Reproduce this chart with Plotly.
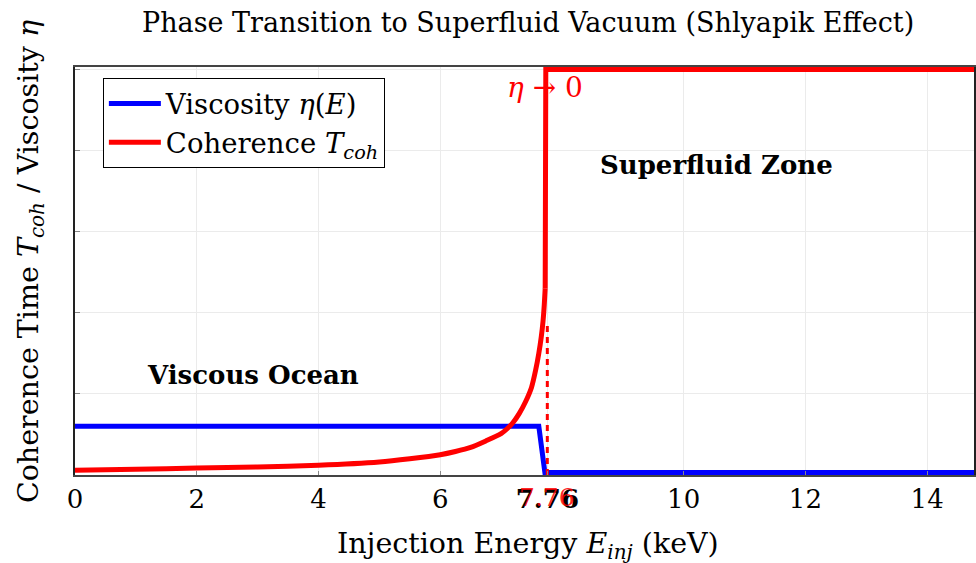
import plotly.graph_objects as go

# Data
E_eta = [0, 7.62, 7.72, 14.8]
eta = [0.6, 0.6, 0.03, 0.03]

E_coh = [0, 1, 2, 3, 4, 5, 5.5, 6, 6.25, 6.5, 6.75, 7.0, 7.1, 7.2, 7.3, 7.4,
         7.5, 7.57, 7.62, 7.66, 7.69, 7.71, 7.725]
T_coh = [0.06, 0.07, 0.085, 0.10, 0.12, 0.16, 0.2, 0.25, 0.29, 0.34, 0.42, 0.51,
         0.57, 0.65, 0.76, 0.9, 1.08, 1.3, 1.5, 1.7, 1.9, 2.1, 2.3]
E_jump = [7.725, 7.735, 14.8]
T_jump = [2.3, 5.0, 5.0]

E_crit = 7.76
crit_line_y = [0, 1.9]

x_ticks = [0, 2, 4, 6, 7.76, 10, 12, 14]
x_ticktext = ["0", "2", "4", "6", "<b>7.76</b>", "10", "12", "14"]
y_ticks = [0, 1, 2, 3, 4, 5]

FONT = "DejaVu Serif"

fig = go.Figure()
fig.add_trace(go.Scatter(x=E_eta, y=eta, mode="lines",
                         line=dict(color="#0000ff", width=5),
                         name="Viscosity <i>η</i>(<i>E</i>)"))
fig.add_trace(go.Scatter(x=E_coh, y=T_coh, mode="lines",
                         line=dict(color="#ff0000", width=5, shape="spline", smoothing=0.6),
                         legendgroup="coh",
                         name="Coherence <i>T</i><sub><i>coh</i></sub>"))
fig.add_trace(go.Scatter(x=E_jump, y=T_jump, mode="lines",
                         line=dict(color="#ff0000", width=5),
                         legendgroup="coh", showlegend=False))
fig.add_trace(go.Scatter(x=[E_crit, E_crit], y=crit_line_y, mode="lines",
                         line=dict(color="#ff0000", width=3, dash="6px,5px"),
                         showlegend=False))

fig.update_layout(
    width=976, height=563,
    margin=dict(l=75, r=0, t=67, b=88),
    plot_bgcolor="white", paper_bgcolor="white",
    font=dict(family=FONT, size=26, color="black"),
    showlegend=True,
    legend=dict(x=0.031, y=0.973, xanchor="left", yanchor="top",
                bordercolor="black", borderwidth=1, bgcolor="white",
                font=dict(family=FONT, size=27.5), tracegroupgap=0,
                itemwidth=52),
    title=dict(text="Phase Transition to Superfluid Vacuum (Shlyapik Effect)",
               x=0.504, xref="paper", xanchor="center",
               y=1 - 23 / 563, yref="container", yanchor="middle",
               font=dict(family=FONT, size=27)),
)
fig.update_xaxes(range=[0, 14.77], tickvals=x_ticks, ticktext=x_ticktext,
                 showgrid=True, gridcolor="#ebebeb", gridwidth=1,
                 showline=True, linecolor="#444444", linewidth=1.5, mirror=True,
                 ticks="inside", ticklen=4, tickcolor="#888888",
                 tickfont=dict(family=FONT, size=26), zeroline=False)
fig.update_yaxes(range=[0, 5.03], tickvals=y_ticks, showticklabels=False,
                 showgrid=True, gridcolor="#ebebeb", gridwidth=1,
                 showline=True, linecolor="#222222", linewidth=1.5, mirror=True,
                 ticks="inside", ticklen=5, tickcolor="#888888", zeroline=False)

annos = [
    dict(x=7.72, y=4.78, xref="x", yref="y", text="<i>η</i> → 0",
         font=dict(color="#ff0000", size=28, family=FONT), showarrow=False),
    dict(x=10.54, y=3.82, xref="x", yref="y", text="<b>Superfluid Zone</b>",
         font=dict(size=26, family=FONT), showarrow=False),
    dict(x=2.92, y=1.23, xref="x", yref="y", text="<b>Viscous Ocean</b>",
         font=dict(size=26, family=FONT), showarrow=False),
    dict(x=(529 - 75) / 901, y=(475 - 545) / 408, xref="paper", yref="paper",
         xanchor="center", yanchor="middle",
         text="Injection Energy <i>E</i><sub><i>inj</i></sub> (keV)",
         font=dict(size=28.5, family=FONT), showarrow=False),
    dict(x=(30 - 75) / 901, y=(475 - 262) / 408, xref="paper", yref="paper",
         xanchor="center", yanchor="middle",
         text="Coherence Time <i>T</i><sub><i>coh</i></sub> / Viscosity <i>η</i>",
         textangle=-90, font=dict(size=28.5, family=FONT), showarrow=False),
    dict(x=E_crit, y=0, xref="x", yref="y", yshift=-22, xshift=0,
         text="7.76", font=dict(size=25, family=FONT, color="rgba(255,0,0,0.85)"),
         showarrow=False),
]
fig.update_layout(annotations=annos)

fig.write_html("out.html", config={"displayModeBar": False},
               post_script="document.body.style.margin='0';document.body.style.overflow='hidden';")
